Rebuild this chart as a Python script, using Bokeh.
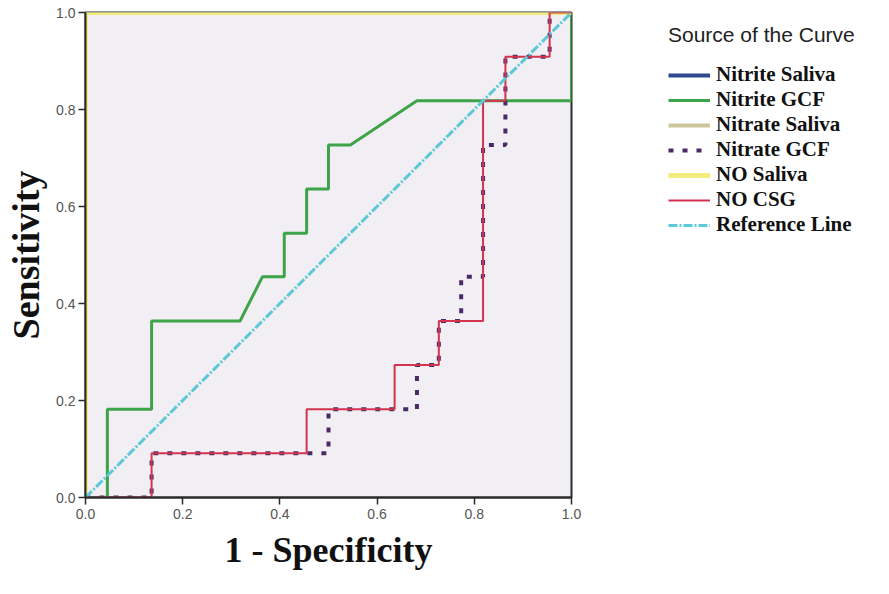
from bokeh.plotting import figure
from bokeh.models import Range1d, Legend, LegendItem, FixedTicker, CustomJSTickFormatter
from bokeh.embed import file_html
from bokeh.resources import INLINE

# ---- data (1 - specificity, sensitivity) ----
ticks = [0.0, 0.2, 0.4, 0.6, 0.8, 1.0]

nitrite_saliva_x = [0.0, 0.0, 1.0]
nitrite_saliva_y = [0.0, 1.0, 1.0]

nitrite_gcf_x = [0.0, 0.045, 0.045, 0.136, 0.136, 0.318, 0.364, 0.409, 0.409,
                 0.455, 0.455, 0.5, 0.5, 0.545, 0.682, 1.0, 1.0]
nitrite_gcf_y = [0.0, 0.0, 0.182, 0.182, 0.364, 0.364, 0.455, 0.455, 0.545,
                 0.545, 0.636, 0.636, 0.727, 0.727, 0.818, 0.818, 1.0]

nitrate_saliva_x = [0.0, 0.0, 1.0]
nitrate_saliva_y = [0.0, 1.0, 1.0]

nitrate_gcf_x = [0.0, 0.136, 0.136, 0.5, 0.5, 0.682, 0.682, 0.727, 0.727, 0.773,
                 0.773, 0.818, 0.818, 0.864, 0.864, 0.955, 0.955, 1.0]
nitrate_gcf_y = [0.0, 0.0, 0.091, 0.091, 0.182, 0.182, 0.273, 0.273, 0.364, 0.364,
                 0.455, 0.455, 0.727, 0.727, 0.909, 0.909, 1.0, 1.0]

no_saliva_x = [0.0, 0.0, 1.0]
no_saliva_y = [0.0, 1.0, 1.0]

no_csg_x = [0.0, 0.136, 0.136, 0.455, 0.455, 0.636, 0.636, 0.727, 0.727, 0.818,
            0.818, 0.864, 0.864, 0.955, 0.955, 1.0]
no_csg_y = [0.0, 0.0, 0.091, 0.091, 0.182, 0.182, 0.273, 0.273, 0.364, 0.364,
            0.818, 0.818, 0.909, 0.909, 1.0, 1.0]

reference_x = [0.0, 1.0]
reference_y = [0.0, 1.0]

p = figure(frame_width=486, frame_height=485, output_backend="svg", toolbar_location=None,
           x_range=Range1d(0, 1), y_range=Range1d(0, 1),
           min_border_left=85, min_border_right=302,
           min_border_top=12, min_border_bottom=81)

p.background_fill_color = "#f1eff3"
p.border_fill_color = "white"
p.outline_line_color = "#2b2b2b"
p.outline_line_width = 2
p.xgrid.visible = False
p.ygrid.visible = False

for ax in (p.xaxis, p.yaxis):
    ax.ticker = FixedTicker(ticks=ticks)
    ax.formatter = CustomJSTickFormatter(code="return tick.toFixed(1);")
    ax.minor_tick_line_color = None
    ax.major_tick_out = 7
    ax.major_tick_in = 0
    ax.major_tick_line_color = "#2b2b2b"
    ax.major_tick_line_width = 1.5
    ax.axis_line_color = "#2b2b2b"
    ax.axis_line_width = 2
    ax.major_label_text_font = "Liberation Sans"
    ax.major_label_text_font_size = "14px"
    ax.major_label_text_color = "#555555"
    ax.axis_label_text_font = "Liberation Serif"
    ax.axis_label_text_font_style = "bold"
    ax.axis_label_text_color = "#111111"

p.xaxis.axis_label = "1 - Specificity"
p.xaxis.axis_label_text_font_size = "36px"
p.xaxis.axis_label_standoff = 8
p.xaxis.major_label_standoff = 4
p.yaxis.axis_label = "Sensitivity"
p.yaxis.axis_label_text_font_size = "38px"
p.yaxis.axis_label_standoff = 6
p.yaxis.major_label_standoff = 3

r_ns = p.line(nitrite_saliva_x, nitrite_saliva_y, line_color="#2e4a8c", line_width=4)
r_ng = p.line(nitrite_gcf_x, nitrite_gcf_y, line_color="#3fa34a", line_width=3)
r_ts = p.line(nitrate_saliva_x, nitrate_saliva_y, line_color="#cdc69a", line_width=4)
r_tg = p.line(nitrate_gcf_x, nitrate_gcf_y, line_color="#4a2a66", line_width=4,
              line_dash="5 9")
r_os = p.line(no_saliva_x, no_saliva_y, line_color="#f3ee7c", line_width=5)
r_oc = p.line(no_csg_x, no_csg_y, line_color="#d2334f", line_width=2)
r_ref = p.line(reference_x, reference_y, line_color="#5cc8d8", line_width=3,
               line_dash="9 2 2 2")

legend = Legend(items=[
    LegendItem(label="Nitrite Saliva", renderers=[r_ns]),
    LegendItem(label="Nitrite GCF", renderers=[r_ng]),
    LegendItem(label="Nitrate Saliva", renderers=[r_ts]),
    LegendItem(label="Nitrate GCF", renderers=[r_tg]),
    LegendItem(label="NO Saliva", renderers=[r_os]),
    LegendItem(label="NO CSG", renderers=[r_oc]),
    LegendItem(label="Reference Line", renderers=[r_ref]),
], location=(97, 260))
legend.title = "Source of the Curve"
legend.title_text_font = "Liberation Sans"
legend.title_text_font_size = "21px"
legend.title_text_font_style = "normal"
legend.title_text_color = "#222222"
legend.title_standoff = 15
legend.label_text_font = "Liberation Serif"
legend.label_text_font_style = "bold"
legend.label_text_font_size = "21px"
legend.label_height = 18
legend.glyph_height = 18
legend.label_text_color = "#111111"
legend.glyph_width = 42
legend.label_standoff = 6
legend.spacing = 0
legend.padding = 0
legend.margin = 0
legend.border_line_color = None
legend.background_fill_alpha = 0
p.add_layout(legend, "right")

open("out.html", "w").write(file_html(p, INLINE))
